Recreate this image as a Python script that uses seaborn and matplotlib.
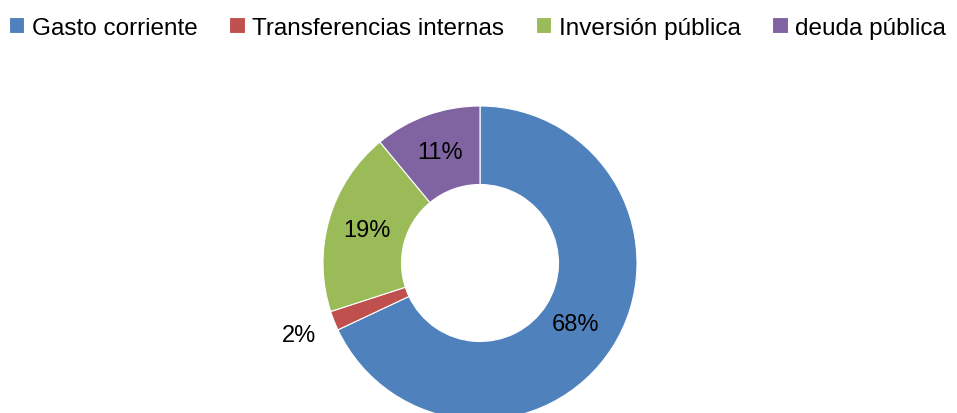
import numpy as np
import matplotlib
matplotlib.use('Agg')
import matplotlib.pyplot as plt
import seaborn as sns

categorias = ['Gasto corriente', 'Transferencias internas', 'Inversión pública', 'deuda pública']
porcentajes = [68, 2, 19, 11]
colores = ['#4F81BD', '#C0504D', '#9BBB59', '#8064A2']

sns.set_theme(style='white')
plt.rcParams['font.family'] = ['Liberation Sans', 'DejaVu Sans']

fig = plt.figure(figsize=(9.57, 4.14), dpi=100)
# donut centre at (480, 264) px, outer radius 157 px
ax = fig.add_axes([(480 - 157) / 957, (414 - 264 - 157) / 414, 314 / 957, 314 / 414])

wedges, _ = ax.pie(porcentajes, colors=colores, startangle=90, counterclock=False,
                   radius=1, wedgeprops=dict(width=0.5, edgecolor='white', linewidth=0.8))
ax.set_xlim(-1, 1)
ax.set_ylim(-1, 1)
ax.set_aspect('auto')
ax.axis('off')

# distance of each label from the centre (Excel-like placement)
dist = [0.72, 1.24, 0.75, 0.75]
for w, p, d in zip(wedges, porcentajes, dist):
    ang = np.deg2rad((w.theta1 + w.theta2) / 2)
    ax.text(d * np.cos(ang), d * np.sin(ang), f'{p}%', ha='center', va='center',
            fontsize=17, color='black')

fig.legend(wedges, categorias, loc='upper left', bbox_to_anchor=(0.0, 0.978), ncol=4,
           frameon=False, fontsize=17.5, handlelength=0.65, handleheight=0.65,
           handletextpad=0.3, columnspacing=1.3, borderpad=0.15, borderaxespad=0.2,
           labelcolor='black')

fig.savefig('out.png', dpi=100)
